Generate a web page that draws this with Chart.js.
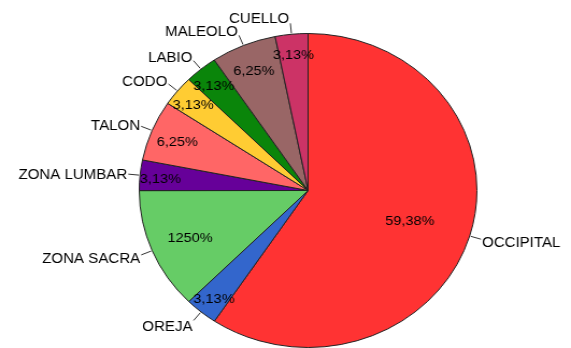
<!DOCTYPE html>
<html>
<head>
<meta charset="utf-8">
<script src="https://cdn.jsdelivr.net/npm/chart.js@4/dist/chart.umd.min.js"></script>
<style>
html,body{margin:0;padding:0;background:#fff;overflow:hidden;}
</style>
</head>
<body>
<canvas id="c" width="531" height="348" style="display:block;width:571px;height:348px;"></canvas>
<script>
const labels = ['OCCIPITAL','OREJA','ZONA SACRA','ZONA LUMBAR','TALON','CODO','LABIO','MALEOLO','CUELLO'];
const values = [59.38, 3.13, 12.50, 3.13, 6.25, 3.13, 3.13, 6.25, 3.13];
const pctLabels = ['59,38%','3,13%','1250%','3,13%','6,25%','3,13%','3,13%','6,25%','3,13%'];
const colors = ['#FF3333','#3366CC','#66CC66','#660099','#FF6666','#FFCC33','#0A850A','#996666','#CC3366'];

const labelPlugin = {
  id: 'pieLabels',
  afterDatasetsDraw(chart) {
    const ctx = chart.ctx;
    const meta = chart.getDatasetMeta(0);
    ctx.save();
    meta.data.forEach((arc, i) => {
      const p = arc.getProps(['x','y','startAngle','endAngle','outerRadius']);
      const mid = (p.startAngle + p.endAngle) / 2;
      const dx = Math.cos(mid), dy = Math.sin(mid);
      const R = p.outerRadius;
      const pct = values[i];
      const frac = Math.max(0.63, 0.92 - 0.013 * pct);
      ctx.fillStyle = '#000';
      ctx.font = '13.5px "Liberation Sans", Arial, sans-serif';
      ctx.textAlign = 'center';
      ctx.textBaseline = 'middle';
      ctx.fillText(pctLabels[i], p.x + dx * R * frac, p.y + dy * R * frac + 2);
      const x1 = p.x + dx * (R + 1), y1 = p.y + dy * (R + 1);
      const x2 = p.x + dx * (R + 11), y2 = p.y + dy * (R + 11);
      ctx.strokeStyle = '#333';
      ctx.lineWidth = 1;
      ctx.beginPath();
      ctx.moveTo(x1, y1);
      ctx.lineTo(x2, y2);
      ctx.stroke();
      ctx.font = '14px "Liberation Sans", Arial, sans-serif';
      ctx.textAlign = dx < 0 ? 'right' : 'left';
      const yOff = dy * 6 + 2;
      ctx.fillText(labels[i], x2 + (dx < 0 ? -1 : 1), y2 + yOff);
    });
    ctx.restore();
  }
};

new Chart(document.getElementById('c'), {
  type: 'pie',
  data: {
    labels: labels,
    datasets: [{
      data: values,
      backgroundColor: colors,
      borderColor: '#222',
      borderWidth: 1
    }]
  },
  options: {
    responsive: false,
    animation: false,
    devicePixelRatio: 1,
    layout: { padding: { left: 128, right: 86, top: 33, bottom: 0 } },
    plugins: { legend: { display: false }, tooltip: { enabled: false } }
  },
  plugins: [labelPlugin]
});
</script>
</body>
</html>
